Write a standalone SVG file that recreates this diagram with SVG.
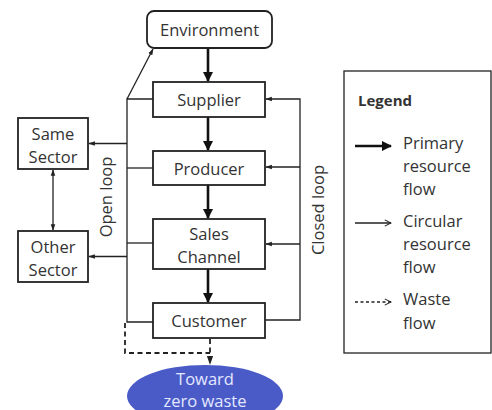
<svg xmlns="http://www.w3.org/2000/svg" width="492" height="410" viewBox="0 0 492 410">
<style>
.box{fill:#fff;stroke:#222;stroke-width:1.8}
.t{font-family:"Open Sans","Liberation Sans",sans-serif;font-size:16.5px;fill:#333;text-anchor:middle;dominant-baseline:central}
.lt{font-family:"Open Sans","Liberation Sans",sans-serif;font-size:16.5px;fill:#333;dominant-baseline:central}
.thick{fill:none;stroke:#111;stroke-width:2.6}
.thin{fill:none;stroke:#222;stroke-width:1.3}
.dash{fill:none;stroke:#222;stroke-width:1.8;stroke-dasharray:5,3.5}
</style>
<defs>
<marker id="ah" viewBox="0 0 10 10" refX="9" refY="5" markerWidth="4" markerHeight="4" orient="auto"><path d="M0,0 L10,5 L0,10 z" fill="#111"/></marker>
<marker id="as" viewBox="0 0 10 10" refX="9" refY="5" markerWidth="5" markerHeight="5" orient="auto-start-reverse"><path d="M0,1.5 L10,5 L0,8.5 z" fill="#222"/></marker>
<marker id="ao" viewBox="0 0 10 10" refX="9" refY="5" markerWidth="6" markerHeight="6" orient="auto"><path d="M1,1 L9,5 L1,9" fill="none" stroke="#222" stroke-width="1.4"/></marker>
</defs>

<g id="connectors">
  <line class="thick" x1="208" y1="48" x2="208" y2="81" marker-end="url(#ah)"/>
  <line class="thick" x1="208" y1="117" x2="208" y2="150" marker-end="url(#ah)"/>
  <line class="thick" x1="208" y1="185" x2="208" y2="218" marker-end="url(#ah)"/>
  <line class="thick" x1="208" y1="269" x2="208" y2="302" marker-end="url(#ah)"/>
  <!-- open loop -->
  <polyline class="thin" points="153,99 127,99 127,322 153,322"/>
  <line class="thin" x1="127" y1="168" x2="153" y2="168"/>
  <line class="thin" x1="127" y1="243" x2="153" y2="243"/>
  <line class="thin" x1="127" y1="99" x2="153" y2="49" marker-end="url(#as)"/>
  <line class="thin" x1="127" y1="143.5" x2="89" y2="143.5" marker-end="url(#as)"/>
  <line class="thin" x1="127" y1="256.5" x2="89" y2="256.5" marker-end="url(#as)"/>
  <line class="thin" x1="53" y1="170" x2="53" y2="230" marker-start="url(#as)" marker-end="url(#as)"/>
  <!-- closed loop -->
  <polyline class="thin" points="265,320 300,320 300,99 266,99" marker-end="url(#as)"/>
  <line class="thin" x1="300" y1="167" x2="266" y2="167" marker-end="url(#as)"/>
  <line class="thin" x1="300" y1="244" x2="266" y2="244" marker-end="url(#as)"/>
  <!-- waste -->
  <line class="dash" x1="210" y1="339" x2="210" y2="364" marker-end="url(#as)"/>
  <polyline class="dash" points="125,323 125,353 210,353"/>
</g>

<g id="environment"><rect class="box" x="147" y="11" width="125" height="37" rx="7"/><text class="t" x="209.5" y="29.5">Environment</text></g>
<g id="supplier"><rect class="box" x="153" y="82" width="112" height="35"/><text class="t" x="209" y="99">Supplier</text></g>
<g id="producer"><rect class="box" x="153" y="151" width="112" height="34"/><text class="t" x="209" y="168">Producer</text></g>
<g id="sales"><rect class="box" x="153" y="219" width="112" height="50"/><text class="t" x="209" y="233">Sales</text><text class="t" x="209" y="256">Channel</text></g>
<g id="customer"><rect class="box" x="153" y="303" width="112" height="35"/><text class="t" x="209" y="320">Customer</text></g>
<g id="same-sector"><rect class="box" x="18" y="118" width="70" height="51"/><text class="t" x="53" y="133">Same</text><text class="t" x="53" y="156">Sector</text></g>
<g id="other-sector"><rect class="box" x="18" y="231" width="70" height="51"/><text class="t" x="53" y="246">Other</text><text class="t" x="53" y="269">Sector</text></g>
<g id="zero-waste"><ellipse cx="205" cy="396" rx="78" ry="31" fill="#4a5bc8"/><text class="t" x="205" y="378" style="fill:#e4e8ff">Toward</text><text class="t" x="205" y="400" style="fill:#e4e8ff">zero waste</text></g>

<text class="t" transform="translate(105,197) rotate(-90)">Open loop</text>
<text class="t" transform="translate(317,210) rotate(-90)">Closed loop</text>

<g id="legend">
  <rect x="344" y="71" width="147" height="282" fill="#fff" stroke="#222" stroke-width="1.3"/>
  <text class="lt" x="358" y="100" style="font-weight:bold;font-size:15px">Legend</text>
  <line class="thick" x1="355" y1="146" x2="391" y2="146" marker-end="url(#ah)"/>
  <text class="lt" x="403" y="142">Primary</text>
  <text class="lt" x="403" y="165">resource</text>
  <text class="lt" x="403" y="188">flow</text>
  <line class="thin" x1="355" y1="223" x2="391" y2="223" marker-end="url(#ao)"/>
  <text class="lt" x="403" y="220">Circular</text>
  <text class="lt" x="403" y="243">resource</text>
  <text class="lt" x="403" y="266">flow</text>
  <line x1="355" y1="302" x2="391" y2="302" stroke="#222" stroke-width="1.3" stroke-dasharray="3,2.5" marker-end="url(#ao)"/>
  <text class="lt" x="403" y="298">Waste</text>
  <text class="lt" x="403" y="322">flow</text>
</g>
</svg>
